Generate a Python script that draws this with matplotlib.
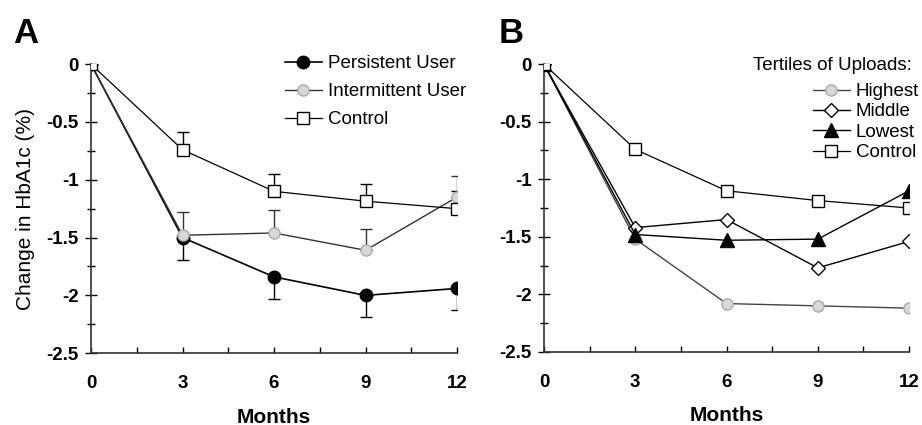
import matplotlib
matplotlib.use("Agg")
import matplotlib.pyplot as plt
from matplotlib.ticker import MultipleLocator

plt.rcParams['font.family'] = ['Liberation Sans', 'DejaVu Sans']

months = [0, 3, 6, 9, 12]

# panel A
persistent = [0, -1.50, -1.84, -2.00, -1.94]
persistent_err = [0, 0.19, 0.19, 0.19, 0.19]   # downward only
intermittent = [0, -1.48, -1.46, -1.61, -1.15]
intermittent_err = [0, 0.20, 0.20, 0.18, 0.18]  # upward only
control = [0, -0.74, -1.10, -1.185, -1.25]
control_err = [0, 0.15, 0.15, 0.15, 0.15]       # upward only

# panel B
highest = [0, -1.52, -2.08, -2.10, -2.12]
middle = [0, -1.42, -1.35, -1.77, -1.54]
lowest = [0, -1.48, -1.53, -1.52, -1.10]

yticks = [0, -0.5, -1, -1.5, -2, -2.5]
ytick_labels = ['0', '-0.5', '-1', '-1.5', '-2', '-2.5']

GRAY_FC = '#d8d8d8'
GRAY_EC = '#aaaaaa'

fig = plt.figure(figsize=(9.22, 4.25), dpi=100)
axA = fig.add_axes([0.0987, 0.169, 0.397, 0.680])
axB = fig.add_axes([0.590, 0.172, 0.396, 0.677])


def style_axes(ax):
    ax.set_xlim(0, 12)
    ax.set_ylim(-2.5, 0)
    ax.set_xticks(months)
    ax.set_xticklabels([str(m) for m in months], fontsize=13.5, fontweight='bold')
    ax.set_yticks(yticks)
    ax.set_yticklabels(ytick_labels, fontsize=13.5, fontweight='bold')
    ax.xaxis.set_minor_locator(MultipleLocator(1.5))
    ax.yaxis.set_minor_locator(MultipleLocator(0.25))
    ax.tick_params(axis='x', which='both', direction='in', length=4, width=1, pad=16)
    ax.tick_params(axis='y', which='major', direction='inout', length=8, width=1, pad=5)
    ax.tick_params(axis='y', which='minor', direction='inout', length=6, width=1)
    for s in ['top', 'right']:
        ax.spines[s].set_visible(False)
    for s in ['left', 'bottom']:
        ax.spines[s].set_linewidth(1.2)
        ax.spines[s].set_color('#333333')
    ax.set_xlabel('Months', fontsize=15, fontweight='bold', labelpad=11)


# ---- panel A ----
axA.errorbar(months, persistent, yerr=[persistent_err, [0] * 5], fmt='none',
             ecolor='black', elinewidth=1, capsize=4, capthick=1, zorder=2)
axA.errorbar(months, intermittent, yerr=[[0] * 5, intermittent_err], fmt='none',
             ecolor='#333333', elinewidth=1, capsize=4, capthick=1, zorder=2)
axA.errorbar(months, control, yerr=[[0] * 5, control_err], fmt='none',
             ecolor='black', elinewidth=1, capsize=4, capthick=1, zorder=2)

axA.plot(months, persistent, '-o', color='black', lw=1.2, ms=9,
         mfc='black', mec='black', label='Persistent User', zorder=4)
axA.plot(months, intermittent, '-o', color='#333333', lw=1.0, ms=8,
         mfc=GRAY_FC, mec=GRAY_EC, label='Intermittent User', zorder=4)
axA.plot(months, control, '-s', color='black', lw=0.9, ms=8,
         mfc='white', mec='black', mew=1, label='Control', zorder=5)

style_axes(axA)
axA.set_ylabel('Change in HbA1c (%)', fontsize=15, labelpad=8)
axA.legend(loc='upper right', bbox_to_anchor=(466 / 922, 1 - 55 / 425),
           bbox_transform=fig.transFigure, frameon=False,
           fontsize=13.5, handlelength=2.0, handletextpad=0.3, labelspacing=0.58,
           borderaxespad=0, borderpad=0)
fig.text(0.014, 0.899, 'A', fontsize=25, fontweight='bold')

# ---- panel B ----
axB.plot(months, highest, '-o', color='#444444', lw=1.0, ms=8,
         mfc=GRAY_FC, mec=GRAY_EC, label='Highest', zorder=4)
axB.plot(months, middle, '-D', color='black', lw=1.0, ms=7.5,
         mfc='white', mec='black', mew=1, label='Middle', zorder=4)
axB.plot(months, lowest, '-^', color='black', lw=1.0, ms=9.5,
         mfc='black', mec='black', label='Lowest', zorder=4)
axB.plot(months, control, '-s', color='black', lw=0.9, ms=8,
         mfc='white', mec='black', mew=1, label='Control', zorder=5)

style_axes(axB)
axB.legend(loc='upper right', bbox_to_anchor=(919 / 922, 1 - 83 / 425),
           bbox_transform=fig.transFigure, frameon=False,
           fontsize=13.5, handlelength=2.0, handletextpad=0.3,
           labelspacing=0.17, borderaxespad=0, borderpad=0)
fig.text(912 / 922, 1 - 65 / 425, 'Tertiles of Uploads:', fontsize=13.5,
         ha='right', va='center')
fig.text(0.541, 0.899, 'B', fontsize=25, fontweight='bold')

fig.savefig('out.png', dpi=100)
